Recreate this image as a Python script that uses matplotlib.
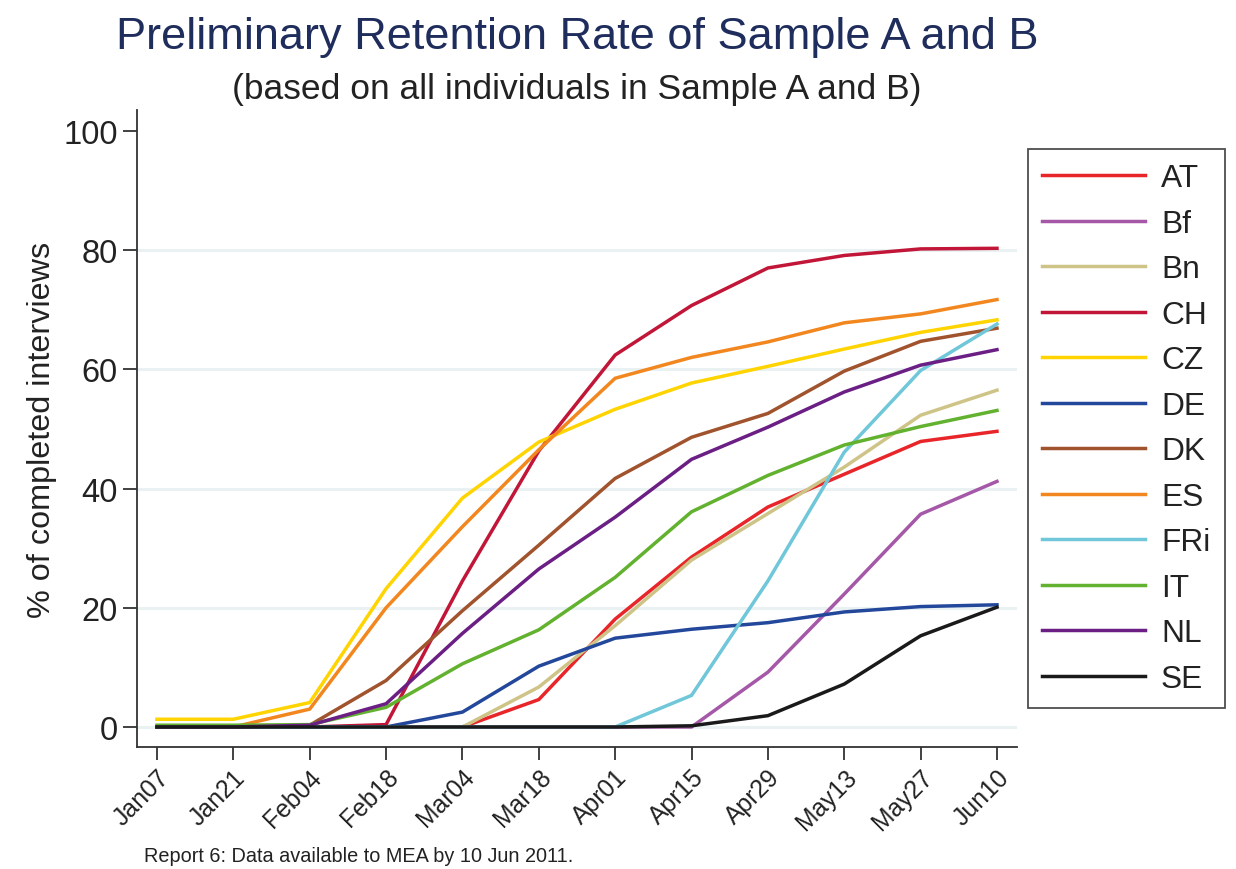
import numpy as np
import matplotlib
matplotlib.use('Agg')
import matplotlib.pyplot as plt

plt.rcParams['font.family'] = ['Liberation Sans', 'DejaVu Sans']

# data
dates = ['Jan07', 'Jan21', 'Feb04', 'Feb18', 'Mar04', 'Mar18',
         'Apr01', 'Apr15', 'Apr29', 'May13', 'May27', 'Jun10']

AT = [0, 0, 0, 0, 0, 4.6, 18.1, 28.5, 36.9, 42.4, 47.9, 49.6]
Bf = [0, 0, 0, 0, 0, 0, 0, 0, 9.2, 22.3, 35.7, 41.2]
Bn = [0, 0, 0, 0, 0, 6.7, 17.0, 28.0, 35.8, 43.6, 52.3, 56.5]
CH = [0, 0, 0, 0.4, 24.5, 46.3, 62.4, 70.7, 77.0, 79.1, 80.2, 80.3]
CZ = [1.3, 1.3, 4.1, 23.2, 38.4, 47.8, 53.3, 57.7, 60.5, 63.4, 66.2, 68.3]
DE = [0, 0, 0, 0, 2.5, 10.2, 14.9, 16.4, 17.5, 19.3, 20.2, 20.5]
DK = [0, 0, 0.3, 7.8, 19.5, 30.5, 41.7, 48.6, 52.6, 59.7, 64.7, 66.9]
ES = [0, 0, 3.0, 20.0, 33.6, 46.5, 58.5, 62.0, 64.6, 67.8, 69.3, 71.7]
FRi = [0, 0, 0, 0, 0, 0, 0, 5.3, 24.5, 46.1, 59.8, 67.6]
IT = [0.3, 0.3, 0.4, 3.3, 10.6, 16.3, 25.1, 36.1, 42.2, 47.3, 50.4, 53.1]
NL = [0, 0, 0.3, 3.9, 15.7, 26.5, 35.2, 44.9, 50.3, 56.2, 60.7, 63.3]
SE = [0, 0, 0, 0, 0, 0, 0, 0.2, 1.9, 7.2, 15.3, 20.1]

countries = ['AT', 'Bf', 'Bn', 'CH', 'CZ', 'DE', 'DK', 'ES', 'FRi', 'IT', 'NL', 'SE']
series = [AT, Bf, Bn, CH, CZ, DE, DK, ES, FRi, IT, NL, SE]
colors = ['#e8262a', '#a558a8', '#cfc487', '#c11638', '#ffd400', '#23489b',
          '#a0532d', '#f2871f', '#6fc7d9', '#62b22f', '#6b1f85', '#1a1a1a']

fig = plt.figure(figsize=(12.36, 8.7), dpi=100)
ax = fig.add_axes([0.1108, 0.1402, 0.712, 0.7322])

x = np.arange(len(dates))

# horizontal grid
for g in [0, 20, 40, 60, 80]:
    ax.axhline(g, color='#e9f1f3', lw=2.2, zorder=0)

for name, vals, c in zip(countries, series, colors):
    ax.plot(x, vals, color=c, lw=2.5, label=name, solid_joinstyle='miter')

ax.set_xlim(-0.262, 11.262)
ax.set_ylim(-3.36, 103.5)
ax.set_xticks(x)
ax.set_xticklabels(dates, rotation=45, ha='right', rotation_mode='anchor')
ax.set_yticks([0, 20, 40, 60, 80, 100])

for s in ['top', 'right']:
    ax.spines[s].set_visible(False)
for s in ['left', 'bottom']:
    ax.spines[s].set_linewidth(1.3)
    ax.spines[s].set_color('#333333')

ax.tick_params(axis='y', length=10, width=1.3, color='#333333', labelsize=23.5, pad=4)
ax.tick_params(axis='x', length=9.5, width=1.3, color='#333333', labelsize=17.8, pad=3)
for t in ax.get_xticklabels() + ax.get_yticklabels():
    t.set_color('#222222')

ax.set_ylabel('% of completed interviews', fontsize=23.3, color='#222222', labelpad=4)

leg = fig.legend(loc='upper left', bbox_to_anchor=(1028 / 1236, 1 - 150 / 870),
                 fontsize=22.8, frameon=True, fancybox=False, handlelength=3.25,
                 handletextpad=0.5, labelspacing=0.49, borderpad=0.45,
                 borderaxespad=0)
leg.get_frame().set_edgecolor('#222222')
leg.get_frame().set_linewidth(1.3)
for line in leg.get_lines():
    line.set_linewidth(2.5)
for t in leg.get_texts():
    t.set_color('#222222')

cx = (137 + 1017) / 2 / 1236
fig.text(cx, 1 - 38 / 870, 'Preliminary Retention Rate of Sample A and B',
         ha='center', va='center', fontsize=32.5, color='#1f2d5c')
fig.text(cx, 1 - 90 / 870, '(based on all individuals in Sample A and B)',
         ha='center', va='center', fontsize=25.5, color='#222222')
fig.text(144 / 1236, 1 - 857 / 870, 'Report 6: Data available to MEA by 10 Jun 2011.',
         ha='left', va='center', fontsize=14.3, color='#222222')

fig.savefig('out.png', dpi=100, facecolor='white')
